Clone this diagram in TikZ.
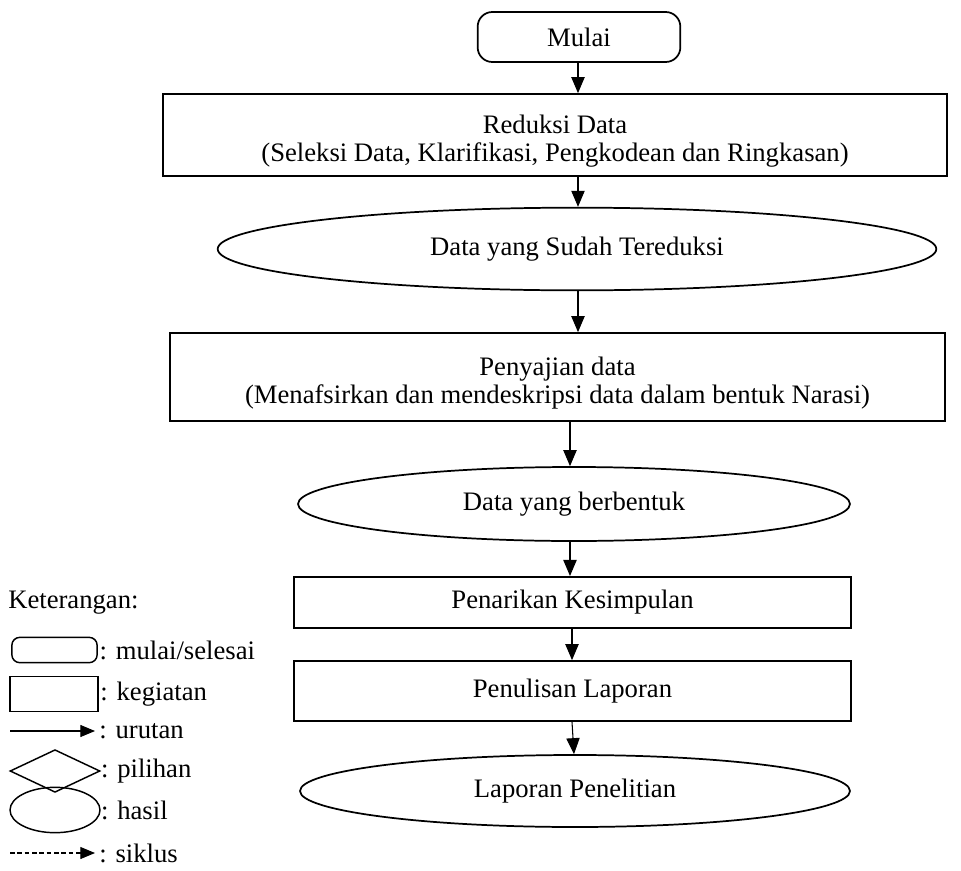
\documentclass[tikz,border=0pt]{standalone}
\usepackage{fontspec}
\setmainfont{Liberation Serif}
\usetikzlibrary{shapes.geometric,arrows.meta}
\begin{document}
\begin{tikzpicture}[x=0.75pt,y=-0.75pt,
  txt/.style={font=\fontsize{20}{21}\selectfont},
  box/.style={draw,line width=1.3pt,inner sep=0pt,align=center,txt},
  rbox/.style={box,rounded corners=11pt},
  oval/.style={box,ellipse},
  two/.style={label={[txt,align=center,inner sep=0pt,yshift=-4.5pt]center:{#1}}},
  lgd/.style={draw,line width=1.1pt,inner sep=0pt},
  lbl/.style={anchor=west,inner sep=0pt,txt},
  arr/.style={line width=0.8pt,-{Triangle[length=12pt,width=10pt]}},
  lgarr/.style={line width=0.8pt,-{Triangle[length=11pt,width=9pt]}}
]
\useasboundingbox (0,0) rectangle (961,871);

% main column
\node[rbox,minimum width=152pt,minimum height=37.5pt] (mulai) at (579,37) {Mulai};
\node[box,minimum width=588pt,minimum height=61.5pt,
  two={Reduksi Data\\(Seleksi Data, Klarifikasi, Pengkodean dan Ringkasan)}] (reduksi) at (555,135) {};
\node[oval,minimum width=539pt,minimum height=62pt] (hasil1) at (577,249) {Data yang Sudah Tereduksi};
\node[box,minimum width=581pt,minimum height=66pt,
  two={Penyajian data\\(Menafsirkan dan mendeskripsi data dalam bentuk Narasi)}] (penyajian) at (557.5,377) {};
\node[oval,minimum width=414pt,minimum height=55.5pt] (hasil2) at (574,504) {Data yang berbentuk};
\node[box,minimum width=418pt,minimum height=38.5pt] (penarikan) at (572.5,602.5) {Penarikan Kesimpulan};
\node[box,minimum width=418pt,minimum height=45pt] (penulisan) at (572.5,691) {Penulisan Laporan};
\node[oval,minimum width=412.5pt,minimum height=54pt] (laporan) at (575,791) {Laporan Penelitian};

% connectors
\coordinate (c1) at (578,0);
\coordinate (c2) at (570,0);
\coordinate (c3) at (572,0);
\coordinate (c4) at (574,0);
\draw[arr] (mulai.south -| c1) -- (reduksi.north -| c1);
\draw[arr] (reduksi.south -| c1) -- (hasil1.north -| c1);
\draw[arr] (hasil1.south -| c1) -- (penyajian.north -| c1);
\draw[arr] (penyajian.south -| c2) -- (hasil2.north -| c2);
\draw[arr] (hasil2.south -| c2) -- (penarikan.north -| c2);
\draw[arr] (penarikan.south -| c3) -- (penulisan.north -| c3);
\draw[arr] (penulisan.south -| c3) -- (laporan.north -| c4);

% legend
\node[lbl] (ket) at (8,603) {Keterangan:};
\node[lgd,rounded corners=6pt,minimum width=64pt,minimum height=19pt] (l1) at (54.5,650) {};
\node[lbl] (t1) at ([xshift=1pt]l1.east) {: mulai/selesai};
\node[lgd,minimum width=66pt,minimum height=26pt] (l2) at (54,694) {};
\node[lbl] (t2) at ([xshift=1pt]l2.east) {: kegiatan};
\coordinate (a1s) at (10,731);
\coordinate (a1e) at (95,731);
\draw[lgarr] (a1s) -- (a1e);
\node[lbl] (t3) at ([xshift=3pt]a1e) {: urutan};
\node[lgd,diamond,minimum width=67.5pt,minimum height=32pt] (l4) at (55,771) {};
\node[lbl] (t4) at (l4.east) {: pilihan};
\node[lgd,ellipse,minimum width=67.5pt,minimum height=34pt] (l5) at (55,810) {};
\node[lbl] (t5) at (l5.east) {: hasil};
\coordinate (a2s) at (10,853);
\coordinate (a2e) at (95,853);
\draw[lgarr,dash pattern=on 3.5pt off 2pt] (a2s) -- (a2e);
\node[lbl] (t6) at ([xshift=3pt]a2e) {: siklus};
\end{tikzpicture}
\end{document}
